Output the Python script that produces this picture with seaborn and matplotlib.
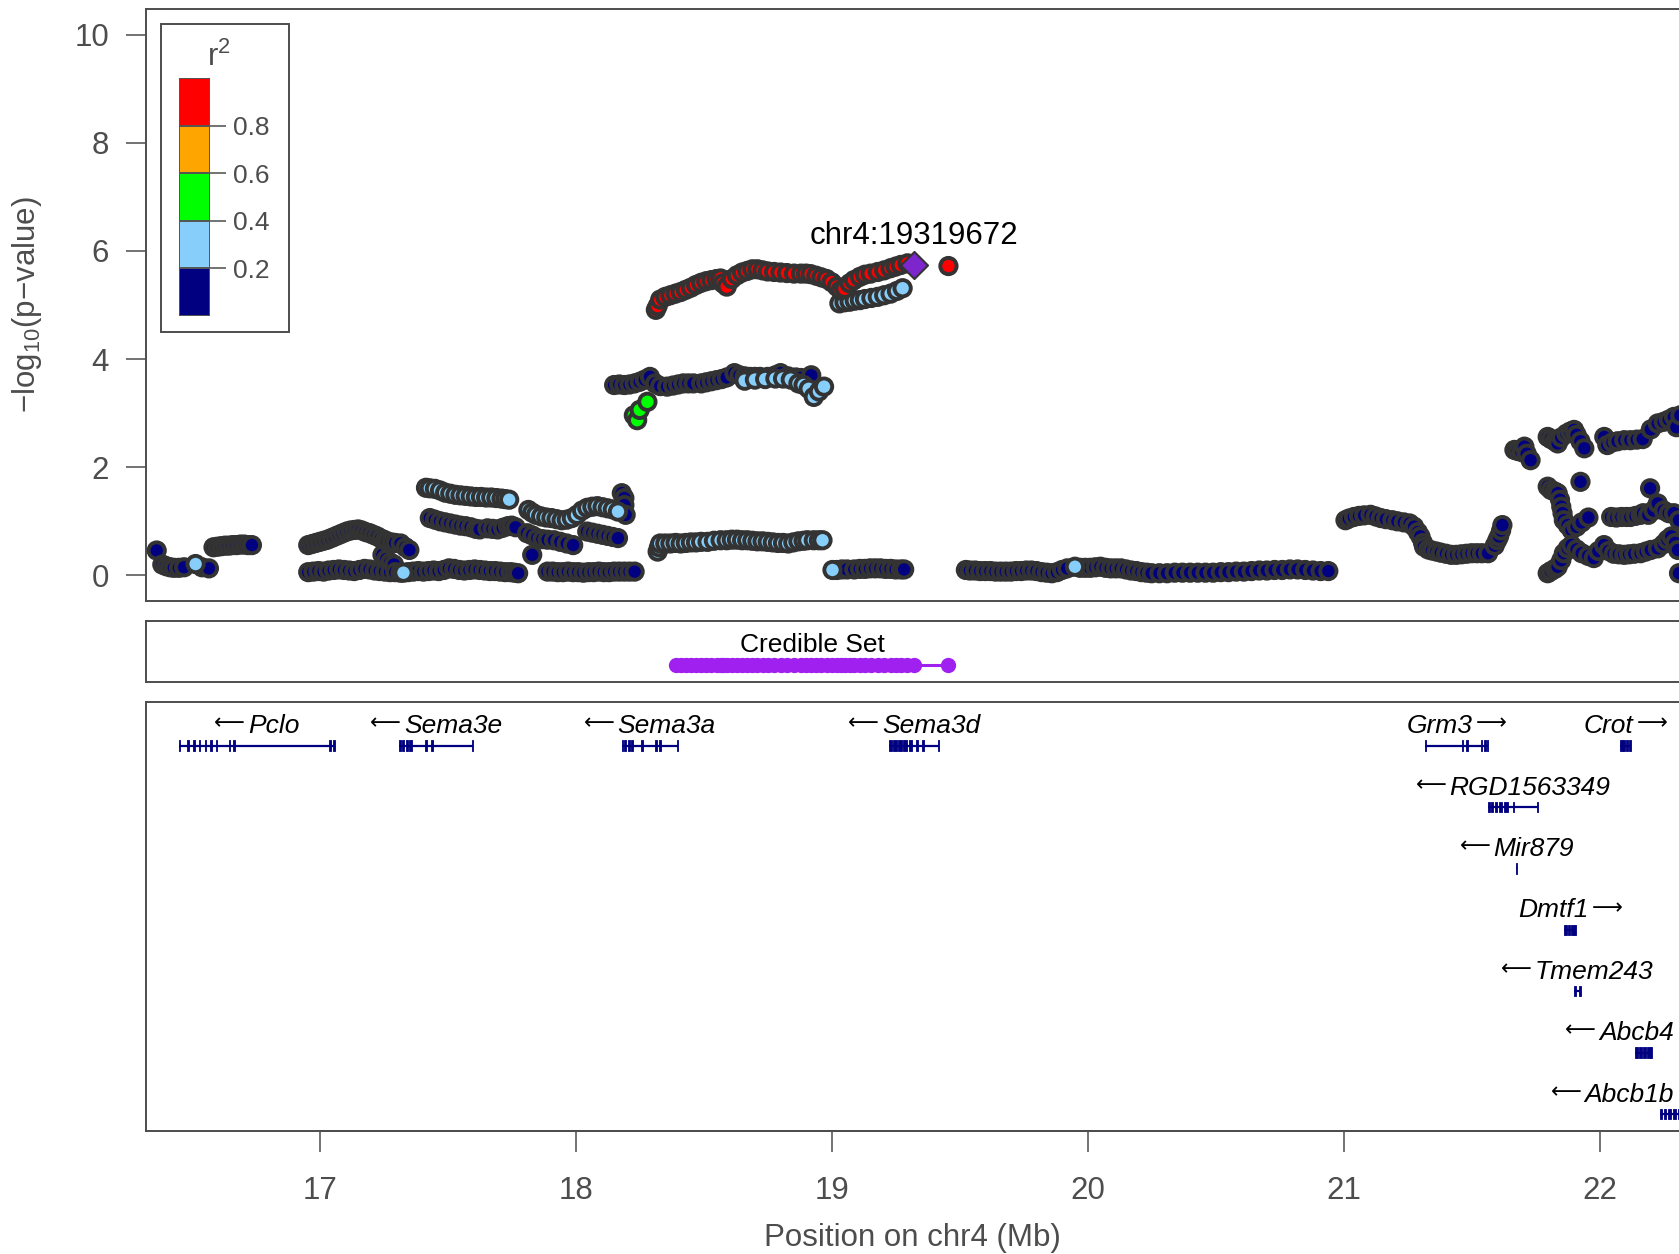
import numpy as np
import pandas as pd
import matplotlib
matplotlib.use("Agg")
import matplotlib.pyplot as plt
import matplotlib.transforms as mtransforms
from matplotlib.patches import Rectangle
import seaborn as sns

# ---------------- data ----------------
# SNP bands: position (Mb), -log10(p), r2 class per point
# class codes: n <0.2 (navy), l 0.2-0.4, g 0.4-0.6, o 0.6-0.8, r >0.8
a1_pos = [16.363, 16.385, 16.40, 16.415, 16.43, 16.45, 16.47, 16.515, 16.54, 16.567]
a1_logp = [0.46, 0.20, 0.17, 0.15, 0.14, 0.14, 0.15, 0.21, 0.15, 0.13]
a1_cls = "nnnnnnnlnn"

a2_pos = [16.585, 16.60, 16.615, 16.63, 16.645, 16.66, 16.675, 16.69, 16.705, 16.72, 16.735]
a2_logp = [0.52, 0.53, 0.54, 0.55, 0.55, 0.56, 0.56, 0.57, 0.57, 0.56, 0.56]
a2_cls = "nnnnnnnnnnn"

b1_pos = [16.955, 16.97, 16.985, 17.0, 17.015, 17.03, 17.045, 17.06, 17.075, 17.09,
          17.105, 17.12, 17.135, 17.15, 17.165, 17.18, 17.195, 17.21, 17.225, 17.24,
          17.255, 17.264, 17.28, 17.295, 17.316, 17.335, 17.35, 17.245, 17.26, 17.275, 17.29]
b1_logp = [0.56, 0.58, 0.60, 0.62, 0.64, 0.66, 0.69, 0.72, 0.75, 0.78,
           0.81, 0.83, 0.84, 0.85, 0.83, 0.80, 0.78, 0.75, 0.72, 0.68,
           0.65, 0.62, 0.61, 0.60, 0.59, 0.52, 0.47, 0.38, 0.30, 0.24, 0.20]
b1_cls = "nnnnnnnnnnnnnnnnnnnnnnnnnnnnnnn"

b2_pos = [16.955, 16.975, 16.995, 17.015, 17.035, 17.055, 17.075, 17.095, 17.115, 17.135,
          17.155, 17.175, 17.195, 17.215, 17.235, 17.255, 17.275, 17.295, 17.315, 17.327,
          17.345, 17.365, 17.385, 17.405, 17.425, 17.445, 17.465, 17.485, 17.505, 17.525,
          17.545, 17.565, 17.585, 17.605, 17.625, 17.645, 17.665, 17.685, 17.705, 17.725,
          17.745, 17.76, 17.775]
b2_logp = [0.06, 0.07, 0.08, 0.07, 0.09, 0.10, 0.11, 0.10, 0.09, 0.08,
           0.10, 0.12, 0.11, 0.09, 0.08, 0.07, 0.06, 0.06, 0.05, 0.05,
           0.06, 0.07, 0.08, 0.07, 0.08, 0.09, 0.08, 0.10, 0.13, 0.12,
           0.10, 0.09, 0.10, 0.11, 0.10, 0.09, 0.08, 0.08, 0.07, 0.06,
           0.06, 0.05, 0.04]
b2_cls = "nnnnnnnnnnnnnnnnnnnlnnnnnnnnnnnnnnnnnnnnnnn"

c1_pos = [17.415, 17.43, 17.45, 17.47, 17.49, 17.51, 17.53, 17.55, 17.57, 17.59,
          17.61, 17.63, 17.65, 17.67, 17.69, 17.71, 17.725, 17.74]
c1_logp = [1.62, 1.61, 1.60, 1.57, 1.53, 1.51, 1.49, 1.48, 1.47, 1.46,
           1.45, 1.45, 1.44, 1.44, 1.43, 1.42, 1.41, 1.40]
c1_cls = "llllllllllllllllll"

c2_pos = [17.43, 17.45, 17.47, 17.49, 17.51, 17.53, 17.55, 17.57, 17.59, 17.61,
          17.625, 17.655, 17.675, 17.695, 17.715, 17.735, 17.75, 17.765]
c2_logp = [1.06, 1.03, 1.00, 0.98, 0.96, 0.94, 0.92, 0.91, 0.89, 0.86,
           0.85, 0.87, 0.86, 0.85, 0.88, 0.91, 0.92, 0.89]
c2_cls = "nnnnnnnnnnnnnnnnnn"

c3_pos = [17.815, 17.83, 17.845, 17.865, 17.885, 17.905, 17.925, 17.945, 17.965, 17.985,
          18.005, 18.025, 18.045, 18.065, 18.085, 18.105, 18.125, 18.145, 18.165, 18.18,
          18.19, 18.19, 18.195]
c3_logp = [1.21, 1.16, 1.12, 1.09, 1.07, 1.06, 1.04, 1.02, 1.03, 1.06,
           1.12, 1.20, 1.25, 1.27, 1.28, 1.26, 1.24, 1.22, 1.18, 1.52,
           1.43, 1.30, 1.12]
c3_cls = "lllllllllllllllllllnnnn"

c4_pos = [17.81, 17.83, 17.85, 17.87, 17.89, 17.915, 17.94, 17.965, 17.99, 17.83]
c4_logp = [0.78, 0.74, 0.69, 0.67, 0.66, 0.65, 0.62, 0.59, 0.56, 0.38]
c4_cls = "nnnnnnnnnn"

c5_pos = [18.045, 18.065, 18.085, 18.105, 18.125, 18.145, 18.165]
c5_logp = [0.81, 0.79, 0.77, 0.75, 0.73, 0.71, 0.69]
c5_cls = "nnnnnnn"

c6_pos = [17.89, 17.91, 17.93, 17.95, 17.97, 17.99, 18.01, 18.03, 18.05, 18.07,
          18.09, 18.11, 18.13, 18.15, 18.17, 18.19, 18.21, 18.23]
c6_logp = [0.07, 0.07, 0.06, 0.06, 0.07, 0.06, 0.06, 0.05, 0.06, 0.06,
           0.07, 0.06, 0.06, 0.07, 0.07, 0.07, 0.07, 0.07]
c6_cls = "nnnnnnnnnnnnnnnnnn"

d1_pos = [18.313, 18.32, 18.33, 18.35, 18.37, 18.39, 18.41, 18.43, 18.45, 18.47,
          18.49, 18.51, 18.53, 18.55, 18.566, 18.575, 18.59, 18.61, 18.63, 18.65,
          18.67, 18.69, 18.71, 18.73, 18.75, 18.775, 18.80, 18.825, 18.853, 18.88,
          18.90, 18.918, 18.94, 18.96, 18.98, 19.00, 19.02, 19.035, 19.05, 19.07,
          19.087, 19.11, 19.13, 19.152, 19.18, 19.205, 19.23, 19.25, 19.27, 19.296,
          19.456]
d1_logp = [4.91, 4.98, 5.10, 5.15, 5.18, 5.21, 5.24, 5.28, 5.32, 5.37,
           5.41, 5.44, 5.46, 5.48, 5.49, 5.40, 5.34, 5.48, 5.55, 5.60,
           5.63, 5.66, 5.66, 5.64, 5.62, 5.61, 5.60, 5.59, 5.58, 5.58,
           5.58, 5.57, 5.54, 5.51, 5.48, 5.42, 5.34, 5.27, 5.30, 5.40,
           5.46, 5.52, 5.56, 5.58, 5.61, 5.64, 5.68, 5.71, 5.74, 5.77,
           5.72]
d1_cls = "rrrrrrrrrrrrrrrrrrrrrrrrrrrrrrrrrrrrrrrrrrrrrrrrrrr"

d2_pos = [19.03, 19.05, 19.07, 19.09, 19.11, 19.13, 19.155, 19.18, 19.205, 19.23, 19.255, 19.277]
d2_logp = [5.03, 5.05, 5.06, 5.08, 5.09, 5.11, 5.13, 5.15, 5.18, 5.21, 5.26, 5.31]
d2_cls = "llllllllllll"

e1_pos = [18.15, 18.17, 18.19, 18.21, 18.23, 18.25, 18.27, 18.29, 18.31, 18.33,
          18.357, 18.38, 18.40, 18.42, 18.44, 18.46, 18.49, 18.51, 18.53, 18.55,
          18.57, 18.59, 18.62, 18.64, 18.66, 18.68, 18.70, 18.72, 18.75, 18.78,
          18.80, 18.83, 18.86, 18.88, 18.92]
e1_logp = [3.52, 3.53, 3.52, 3.53, 3.55, 3.58, 3.62, 3.67, 3.55, 3.50,
           3.49, 3.51, 3.53, 3.55, 3.55, 3.55, 3.55, 3.57, 3.59, 3.61,
           3.63, 3.66, 3.74, 3.70, 3.68, 3.67, 3.67, 3.67, 3.67, 3.70,
           3.74, 3.68, 3.66, 3.65, 3.70]
e1_cls = "nnnnnnnnnnnnnnnnnnnnnnnnnnnnnnnnnnn"

e2_pos = [18.66, 18.70, 18.74, 18.78, 18.81, 18.84, 18.87, 18.89, 18.91, 18.93, 18.95, 18.97]
e2_logp = [3.60, 3.62, 3.63, 3.64, 3.64, 3.62, 3.55, 3.52, 3.45, 3.30, 3.40, 3.49]
e2_cls = "llllllllllll"

e3_pos = [18.227, 18.24, 18.25, 18.28]
e3_logp = [2.96, 2.87, 3.06, 3.21]
e3_cls = "gggg"

f1_pos = [18.32, 18.325, 18.33, 18.35, 18.37, 18.39, 18.41, 18.43, 18.45, 18.47,
          18.49, 18.515, 18.54, 18.566, 18.59, 18.61, 18.63, 18.65, 18.67, 18.69,
          18.71, 18.73, 18.75, 18.77, 18.79, 18.81, 18.83, 18.85, 18.87, 18.89,
          18.905, 18.93, 18.95, 18.964]
f1_logp = [0.44, 0.52, 0.59, 0.59, 0.59, 0.60, 0.59, 0.60, 0.61, 0.61,
           0.62, 0.62, 0.64, 0.65, 0.65, 0.66, 0.66, 0.65, 0.65, 0.64,
           0.63, 0.63, 0.62, 0.61, 0.60, 0.60, 0.59, 0.61, 0.63, 0.64,
           0.65, 0.65, 0.65, 0.65]
f1_cls = "llllllllllllllllllllllllllllllllll"

f2_pos = [19.003, 19.02, 19.04, 19.06, 19.088, 19.11, 19.13, 19.15, 19.17, 19.19,
          19.21, 19.23, 19.25, 19.27, 19.283]
f2_logp = [0.10, 0.10, 0.11, 0.11, 0.11, 0.12, 0.12, 0.13, 0.13, 0.13,
           0.12, 0.12, 0.11, 0.11, 0.11]
f2_cls = "lnnnnnnnnnnnnnn"

f3_pos = [19.524, 19.54, 19.56, 19.58, 19.60, 19.62, 19.64, 19.66, 19.68, 19.70,
          19.72, 19.74, 19.76, 19.78, 19.80, 19.82, 19.84, 19.86, 19.88, 19.90,
          19.92, 19.95, 19.97, 19.99, 20.01, 20.03, 20.05, 20.07, 20.09, 20.11,
          20.13, 20.15, 20.17, 20.19, 20.21, 20.23, 20.25, 20.28, 20.31, 20.34,
          20.37, 20.40, 20.43, 20.46, 20.49, 20.52, 20.55, 20.58, 20.61, 20.64,
          20.67, 20.70, 20.73, 20.76, 20.79, 20.82, 20.85, 20.88, 20.91, 20.94,
          20.97, 19.925]
f3_logp = [0.10, 0.09, 0.09, 0.08, 0.08, 0.08, 0.07, 0.07, 0.07, 0.07,
           0.08, 0.08, 0.09, 0.09, 0.08, 0.06, 0.05, 0.04, 0.06, 0.10,
           0.13, 0.16, 0.14, 0.14, 0.14, 0.15, 0.16, 0.14, 0.13, 0.13,
           0.13, 0.11, 0.09, 0.08, 0.06, 0.05, 0.04, 0.04, 0.04, 0.05,
           0.05, 0.05, 0.05, 0.05, 0.05, 0.06, 0.06, 0.07, 0.07, 0.08,
           0.09, 0.09, 0.10, 0.10, 0.11, 0.11, 0.10, 0.09, 0.08, 0.08,
           0.08, 1.04]
f3_cls = "nnnnnnnnnnnnnnnnnnnnnlnnnnnnnnnnnnnnnnnnnnnnnnnnnnnnnnnnnnnn"

g_pos = [21.007, 21.02, 21.04, 21.06, 21.08, 21.105, 21.125, 21.145, 21.165, 21.19,
         21.21, 21.235, 21.258, 21.275, 21.29, 21.30, 21.31, 21.314, 21.33, 21.345,
         21.363, 21.38, 21.40, 21.42, 21.44, 21.46, 21.48, 21.50, 21.52, 21.54,
         21.564, 21.59, 21.60, 21.607, 21.615, 21.62]
g_logp = [1.02, 1.05, 1.08, 1.10, 1.11, 1.12, 1.09, 1.06, 1.04, 1.02,
          1.00, 0.98, 0.96, 0.90, 0.80, 0.72, 0.60, 0.53, 0.48, 0.46,
          0.44, 0.42, 0.40, 0.38, 0.38, 0.39, 0.40, 0.41, 0.41, 0.41,
          0.41, 0.55, 0.65, 0.72, 0.83, 0.93]
g_cls = "nnnnnnnnnnnnnnnnnnnnnnnnnnnnnnnnnnnn"

h1_pos = [21.667, 21.68, 21.695, 21.706, 21.715, 21.73,
          21.797, 21.81, 21.825, 21.836, 21.85, 21.87, 21.885, 21.90, 21.91, 21.925, 21.94,
          22.018, 22.03, 22.05, 22.07, 22.096, 22.12, 22.145, 22.168, 22.20, 22.227, 22.25,
          22.27, 22.29, 22.30, 22.315]
h1_logp = [2.32, 2.30, 2.28, 2.38, 2.25, 2.13,
           2.56, 2.52, 2.48, 2.44, 2.55, 2.62, 2.66, 2.69, 2.60, 2.48, 2.35,
           2.56, 2.41, 2.46, 2.48, 2.50, 2.50, 2.51, 2.52, 2.70, 2.81, 2.84,
           2.88, 2.93, 2.74, 2.96]
h1_cls = "nnnnnnnnnnnnnnnnnnnnnnnnnnnnnnnn"

h2_pos = [21.797, 21.81, 21.825, 21.836, 21.845, 21.85, 21.855, 21.86, 21.875, 21.89,
          21.91, 21.93, 21.956, 21.925,
          22.045, 22.065, 22.085, 22.105, 22.12, 22.14, 22.16, 22.17, 22.19, 22.21,
          22.227, 22.25, 22.27, 22.29, 22.31, 22.197]
h2_logp = [1.64, 1.58, 1.55, 1.52, 1.40, 1.27, 1.15, 1.02, 0.93, 0.84,
           0.90, 0.98, 1.07, 1.73,
           1.08, 1.07, 1.08, 1.08, 1.08, 1.10, 1.12, 1.15, 1.12, 1.20,
           1.33, 1.20, 1.15, 1.15, 1.02, 1.61]
h2_cls = "nnnnnnnnnnnnnnnnnnnnnnnnnnnnnn"

h3_pos = [21.797, 21.81, 21.825, 21.836, 21.85, 21.86, 21.875, 21.89, 21.91, 21.93,
          21.955, 21.977, 21.995, 22.017, 22.035, 22.055, 22.075, 22.096, 22.115, 22.135,
          22.16, 22.18, 22.20, 22.227, 22.25, 22.265, 22.28, 22.295, 22.306, 22.31]
h3_logp = [0.04, 0.08, 0.12, 0.16, 0.28, 0.41, 0.50, 0.56, 0.48, 0.41,
           0.36, 0.32, 0.45, 0.56, 0.45, 0.40, 0.39, 0.38, 0.39, 0.40,
           0.41, 0.44, 0.47, 0.50, 0.58, 0.66, 0.72, 0.60, 0.47, 0.04]
h3_cls = "nnnnnnnnnnnnnnnnnnnnnnnnnnnnnn"

lead_name = "chr4:19319672"
lead_pos = 19.319672
lead_logp = 5.74

r2_classes = ["n", "l", "g", "o", "r"]
r2_values = [0.10, 0.30, 0.50, 0.70, 0.90]
r2_colors = ["#000080", "#87CEFA", "#00FF00", "#FFA500", "#FF0000"]
legend_ticks = [0.2, 0.4, 0.6, 0.8]

gene_names = ["Pclo", "Sema3e", "Sema3a", "Sema3d", "Grm3", "Crot",
              "RGD1563349", "Mir879", "Dmtf1", "Tmem243", "Abcb4", "Abcb1b"]
gene_start = [16.450, 17.311, 18.179, 19.222, 21.316, 22.081,
              21.563, 21.675, 21.862, 21.900, 22.137, 22.235]
gene_end = [17.058, 17.598, 18.399, 19.420, 21.564, 22.123,
            21.761, 21.678, 21.908, 21.926, 22.205, 22.330]
gene_strand = ["-", "-", "-", "-", "+", "+", "-", "-", "+", "-", "-", "-"]
gene_row = [0, 0, 0, 0, 0, 0, 1, 2, 3, 4, 5, 6]
gene_exons = {
    "Pclo": [(16.450, 16.456), (16.482, 16.488), (16.505, 16.511), (16.527, 16.533),
             (16.550, 16.556), (16.572, 16.578), (16.594, 16.600), (16.644, 16.650),
             (16.662, 16.668), (17.037, 17.043), (17.052, 17.058)],
    "Sema3e": [(17.311, 17.318), (17.322, 17.330), (17.335, 17.345), (17.350, 17.360),
               (17.413, 17.419), (17.436, 17.442), (17.594, 17.598)],
    "Sema3a": [(18.179, 18.186), (18.190, 18.198), (18.203, 18.212), (18.217, 18.224),
               (18.255, 18.261), (18.311, 18.317), (18.326, 18.332), (18.394, 18.399)],
    "Sema3d": [(19.222, 19.235), (19.240, 19.255), (19.260, 19.275), (19.280, 19.295),
               (19.300, 19.312), (19.331, 19.337), (19.354, 19.360), (19.416, 19.420)],
    "Grm3": [(21.316, 21.322), (21.463, 21.468), (21.478, 21.484), (21.536, 21.542),
             (21.550, 21.556), (21.558, 21.564)],
    "Crot": [(22.081, 22.090), (22.093, 22.100), (22.104, 22.112), (22.115, 22.123)],
    "RGD1563349": [(21.563, 21.570), (21.575, 21.585), (21.590, 21.600), (21.605, 21.620),
                   (21.625, 21.640), (21.660, 21.666), (21.755, 21.761)],
    "Mir879": [(21.675, 21.678)],
    "Dmtf1": [(21.862, 21.872), (21.875, 21.885), (21.888, 21.898), (21.900, 21.908)],
    "Tmem243": [(21.900, 21.906), (21.920, 21.926)],
    "Abcb4": [(22.137, 22.150), (22.153, 22.165), (22.168, 22.180), (22.183, 22.195),
              (22.198, 22.205)],
    "Abcb1b": [(22.235, 22.245), (22.250, 22.260), (22.265, 22.280), (22.285, 22.300),
               (22.305, 22.330)],
}

x_ticks = [17, 18, 19, 20, 21, 22]
y_ticks = [0, 2, 4, 6, 8, 10]

# ---------------- assemble ----------------
bands = [(a1_pos, a1_logp, a1_cls), (a2_pos, a2_logp, a2_cls),
         (b1_pos, b1_logp, b1_cls), (b2_pos, b2_logp, b2_cls),
         (c1_pos, c1_logp, c1_cls), (c2_pos, c2_logp, c2_cls),
         (c3_pos, c3_logp, c3_cls), (c4_pos, c4_logp, c4_cls),
         (c5_pos, c5_logp, c5_cls), (c6_pos, c6_logp, c6_cls),
         (d1_pos, d1_logp, d1_cls), (d2_pos, d2_logp, d2_cls),
         (e1_pos, e1_logp, e1_cls), (e2_pos, e2_logp, e2_cls),
         (e3_pos, e3_logp, e3_cls), (f1_pos, f1_logp, f1_cls),
         (f2_pos, f2_logp, f2_cls), (f3_pos, f3_logp, f3_cls),
         (g_pos, g_logp, g_cls), (h1_pos, h1_logp, h1_cls),
         (h2_pos, h2_logp, h2_cls), (h3_pos, h3_logp, h3_cls)]
r2_of = dict(zip(r2_classes, r2_values))
rows = []
for bp, bl, bc in bands:
    n = min(len(bp), len(bl), len(bc))
    for x, y, c in zip(bp[:n], bl[:n], bc[:n]):
        rows.append((x, y, r2_of[c], c))
snps = pd.DataFrame(rows, columns=["pos", "logp", "r2", "cls"])
snps = snps.sort_values(["r2", "pos"], kind="stable").reset_index(drop=True)
palette = dict(zip(r2_classes, r2_colors))

XMIN, XMAX = lead_pos - 3.0, lead_pos + 3.0
GRAY = "#4D4D4D"
PT_DARK = "#333333"

# ---------------- style ----------------
sns.set_theme(style="white")
plt.rcParams["font.family"] = ["Liberation Sans", "DejaVu Sans"]
plt.rcParams["mathtext.fontset"] = "custom"
plt.rcParams["mathtext.rm"] = "Liberation Sans"
plt.rcParams["mathtext.it"] = "Liberation Sans:italic"
plt.rcParams["mathtext.bf"] = "Liberation Sans:bold"
plt.rcParams["axes.edgecolor"] = GRAY
plt.rcParams["axes.linewidth"] = 1.4

W, H = 1679, 1254
fig = plt.figure(figsize=(W / 100, H / 100), dpi=100)
fig.patch.set_facecolor("white")

def fx(px):
    return px / W

def fy(px):
    return 1 - px / H

ax_left = fx(145.6)
ax_w = fx(1681.5) - ax_left
ax_top = fig.add_axes([ax_left, fy(600.7), ax_w, fy(8.6) - fy(600.7)])
ax_cs = fig.add_axes([ax_left, fy(681.7), ax_w, fy(620.7) - fy(681.7)])
ax_gene = fig.add_axes([ax_left, fy(1130.8), ax_w, fy(701.7) - fy(1130.8)])

FS = 22.5
FS_SMALL = 19

# ---------------- top panel ----------------
sns.scatterplot(data=snps, x="pos", y="logp", hue="cls", palette=palette,
                s=138, edgecolor=PT_DARK, linewidth=2.8, legend=False,
                ax=ax_top, zorder=3)
ax_top.scatter([lead_pos], [lead_logp], marker="D", s=190, color="#7D26CD",
               edgecolor=PT_DARK, linewidth=1.5, zorder=5)
ax_top.text(lead_pos, lead_logp + 0.38, lead_name, ha="center", va="baseline",
            fontsize=FS, color="black", zorder=6)
ax_top.set_xlim(XMIN, XMAX)
ax_top.set_ylim(-0.468, 10.48)
ax_top.set_xticks([])
ax_top.set_yticks(y_ticks)
ax_top.set_yticklabels([str(t) for t in y_ticks])
ax_top.tick_params(axis="y", direction="out", length=14.3, width=1.1, color=GRAY,
                   labelcolor=GRAY, labelsize=FS, pad=12, left=True)
ax_top.set_xlabel("")
ax_top.set_ylabel("\u2212log$_{10}$(p\u2212value)", fontsize=FS, color=GRAY)
ax_top.yaxis.label.set_rotation_mode("default")
ax_top.yaxis.label.set_ha("center")
ax_top.yaxis.label.set_va("center")
ax_top.yaxis.set_label_coords((27 - 145.6) / (1681.5 - 145.6), 0.4996)
for sp in ax_top.spines.values():
    sp.set_color(GRAY)
    sp.set_linewidth(1.4)

# legend (colour bar)
leg_box = Rectangle((fx(160.7), fy(331.7)), fx(288.6) - fx(160.7), fy(24.3) - fy(331.7),
                    transform=fig.transFigure, facecolor="white", edgecolor=GRAY,
                    linewidth=1.4, zorder=8)
fig.patches.append(leg_box)
ax_leg = fig.add_axes([fx(178.6), fy(316), fx(209.6) - fx(178.6), fy(78.3) - fy(316)])
ax_leg.set_zorder(10)
edges = [0.0, 0.2, 0.4, 0.6, 0.8]
ax_leg.bar([0] * 5, [0.2] * 5, bottom=edges, width=1.0, color=r2_colors,
           edgecolor="#555555", linewidth=1.4, align="center")
ax_leg.set_xlim(-0.5, 0.5)
ax_leg.set_ylim(0, 1)
for sp in ax_leg.spines.values():
    sp.set_visible(False)
ax_leg.set_xticks([])
ax_leg.yaxis.tick_right()
ax_leg.set_yticks(legend_ticks)
ax_leg.set_yticklabels([f"{t:.1f}" for t in legend_ticks])
ax_leg.tick_params(axis="y", direction="out", length=11.6, width=1.1, color=GRAY,
                   labelcolor=GRAY, labelsize=FS_SMALL, pad=5, right=True, left=False)
ax_leg.patch.set_alpha(0)
fig.text(fx(219), fy(66), "r$^{2}$", ha="center", va="baseline", fontsize=FS,
         color=GRAY, zorder=11)

# ---------------- credible set panel ----------------
cs = snps[(snps["r2"] >= 0.8) & (snps["pos"] >= 18.38)]["pos"].tolist() + [lead_pos]
cs = sorted(cs)
cs_y = 0.27
sns.lineplot(x=cs, y=[cs_y] * len(cs), color="#A020F0", marker="o", markersize=11,
             markeredgewidth=0, linewidth=2.2, ax=ax_cs, estimator=None, sort=True)
ax_cs.text((min(cs) + max(cs)) / 2, 0.49, "Credible Set", ha="center", va="baseline",
           fontsize=FS_SMALL, color="black")
ax_cs.set_xlim(XMIN, XMAX)
ax_cs.set_ylim(0, 1)
ax_cs.set_xticks([])
ax_cs.set_yticks([])
ax_cs.set_xlabel("")
ax_cs.set_ylabel("")
for sp in ax_cs.spines.values():
    sp.set_color(GRAY)
    sp.set_linewidth(1.4)

# ---------------- gene panel ----------------
NAVY = "#000080"
ax_gene.set_xlim(XMIN, XMAX)
ax_gene.set_ylim(6.99, 0)
gene_texts = []
for name, st, en, strand, row in zip(gene_names, gene_start, gene_end, gene_strand, gene_row):
    by = row + 0.715
    ax_gene.hlines(by, st, en, colors=NAVY, linewidth=1.6)
    ex = [(a, b - a) for a, b in gene_exons[name]]
    ax_gene.broken_barh(ex, (by - 0.085, 0.17), facecolors=NAVY, edgecolor=NAVY, linewidth=0.6)
    nt = ax_gene.text((st + en) / 2, row + 0.515, name, ha="left", va="baseline",
                      fontsize=FS_SMALL, style="italic", color="black")
    arrow = "\u27F5" if strand == "-" else "\u27F6"
    at = ax_gene.text((st + en) / 2, row + 0.515 - 0.06, arrow, ha="left", va="baseline",
                      fontsize=15.5, family=["DejaVu Sans"], color="black")
    gene_texts.append((nt, at, strand, (st + en) / 2))

ax_gene.set_xticks(x_ticks)
ax_gene.set_xticklabels([str(t) for t in x_ticks])
ax_gene.set_yticks([])
ax_gene.tick_params(axis="x", direction="out", length=14.8, width=1.1, color=GRAY,
                    labelcolor=GRAY, labelsize=FS, pad=18, bottom=True)

fig.canvas.draw()
renderer = fig.canvas.get_renderer()
inv = ax_gene.transData.inverted()
limit_px = ax_gene.transData.transform((XMAX - 0.03, 0))[0]
GAP = 3.0
for nt, at, strand, cx in gene_texts:
    wn = nt.get_window_extent(renderer).width
    wa = at.get_window_extent(renderer).width
    total = wn + wa + GAP
    cpx = ax_gene.transData.transform((cx, 0))[0]
    left = cpx - total / 2
    if left + total > limit_px:
        left = limit_px - total
    if strand == "-":
        a_px, n_px = left, left + wa + GAP
    else:
        n_px, a_px = left, left + wn + GAP
    nt.set_x(inv.transform((n_px, 0))[0])
    at.set_x(inv.transform((a_px, 0))[0])

ax_gene.plot([x_ticks[0], x_ticks[-1]], [0, 0],
             transform=mtransforms.blended_transform_factory(ax_gene.transData, ax_gene.transAxes),
             color=GRAY, linewidth=1.4, clip_on=False, solid_capstyle="butt")
ax_gene.set_xlabel("Position on chr4 (Mb)", fontsize=FS, color=GRAY)
ax_gene.xaxis.label.set_va("center")
ax_gene.xaxis.set_label_coords(0.4995, -0.25)
ax_gene.set_ylabel("")
for sp in ax_gene.spines.values():
    sp.set_color(GRAY)
    sp.set_linewidth(1.4)

fig.savefig("out.png", dpi=100, facecolor="white")
